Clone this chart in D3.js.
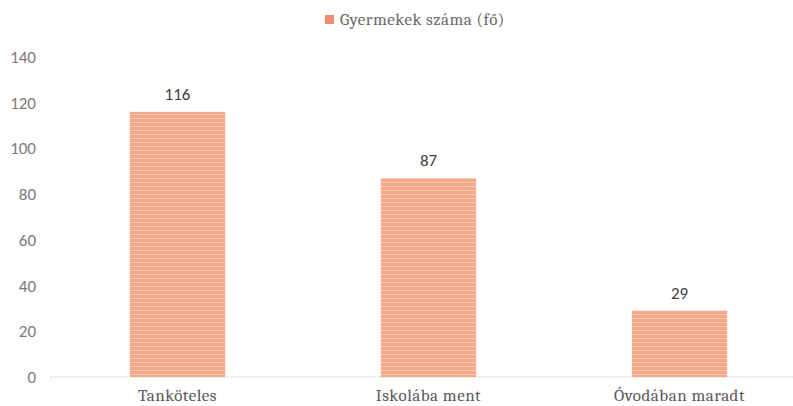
<!DOCTYPE html>
<html>
<head>
<meta charset="utf-8">
<script src="https://cdn.jsdelivr.net/npm/d3@7"></script>
<style>
  body { margin: 0; background: #fff; }
</style>
</head>
<body>
<div id="chart"></div>
<script>
var width = 793,
    height = 406;

// adatok
var categories = ["Tanköteles", "Iskolába ment", "Óvodában maradt"];
var values = [116, 87, 29];
var yTicks = [0, 20, 40, 60, 80, 100, 120, 140];
var seriesName = "Gyermekek száma (fő)";

var serif = "Cambria, 'Liberation Serif', 'DejaVu Serif', serif",
    sans = "Calibri, Lato, 'Liberation Sans', sans-serif",
    txt = "#595959";

var x = d3.scaleBand()
    .domain(categories)
    .range([52, 805])
    .paddingInner(0.62)
    .paddingOuter(0.31);

var y = d3.scaleLinear()
    .domain([0, 140])
    .range([377, 57]);

var svg = d3.select("#chart").append("svg")
    .attr("width", width)
    .attr("height", height);

// csikos minta az oszlopokhoz
var pat = svg.append("defs").append("pattern")
    .attr("id", "stripes")
    .attr("patternUnits", "userSpaceOnUse")
    .attr("width", 8).attr("height", 4);
pat.append("rect").attr("width", 8).attr("height", 4).attr("fill", "#f7a688");
pat.append("rect").attr("y", 2).attr("width", 8).attr("height", 1).attr("fill", "#fbc9b2");

// y tengely
var yAxis = svg.append("g")
    .attr("transform", "translate(36,0)")
    .call(d3.axisLeft(y).tickValues(yTicks).tickSize(0).tickPadding(0));
yAxis.select(".domain").remove();
yAxis.selectAll("text")
    .attr("font-family", sans)
    .attr("font-size", 17)
    .attr("fill", "#7a7a7a");

// alapvonal
svg.append("line")
    .attr("x1", 50).attr("x2", 793)
    .attr("y1", y(0)).attr("y2", y(0))
    .attr("stroke", "#d9d9d9")
    .attr("stroke-dasharray", "3,1");

// oszlopok
svg.selectAll("rect.bar")
    .data(values)
    .enter().append("rect")
    .attr("class", "bar")
    .attr("x", (d, i) => x(categories[i]))
    .attr("width", x.bandwidth())
    .attr("y", d => y(d))
    .attr("height", d => y(0) - y(d))
    .attr("fill", "url(#stripes)");

// ertekcimkek
svg.selectAll("text.val")
    .data(values)
    .enter().append("text")
    .attr("class", "val")
    .attr("x", (d, i) => x(categories[i]) + x.bandwidth() / 2)
    .attr("y", d => y(d) - 12)
    .attr("text-anchor", "middle")
    .attr("font-family", sans)
    .attr("font-size", 17)
    .attr("fill", "#404040")
    .text(d => d);

// x tengely cimkek
var xAxis = svg.append("g")
    .attr("transform", "translate(0," + y(0) + ")")
    .call(d3.axisBottom(x).tickSize(0).tickPadding(12));
xAxis.select(".domain").remove();
xAxis.selectAll("text")
    .attr("font-family", serif)
    .attr("font-size", 17)
    .attr("letter-spacing", 0.5)
    .attr("fill", txt);

// jelmagyarazat
var leg = svg.append("g").attr("transform", "translate(325,15)");
leg.append("rect")
    .attr("width", 9).attr("height", 9)
    .attr("fill", "#f28b70");
leg.append("text")
    .attr("x", 15).attr("y", 10)
    .attr("font-family", serif)
    .attr("font-size", 17)
    .attr("letter-spacing", 0.5)
    .attr("fill", "#6a6a6a")
    .text(seriesName);
</script>
</body>
</html>
